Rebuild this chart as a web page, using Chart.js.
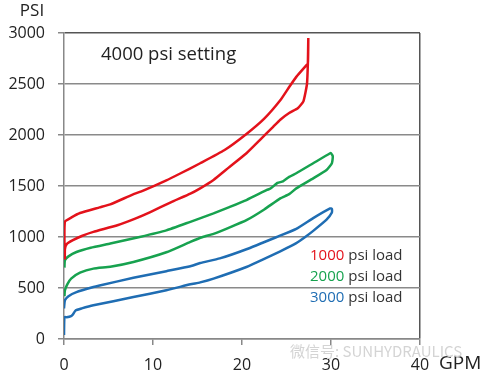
<!DOCTYPE html>
<html>
<head>
<meta charset="utf-8">
<script src="https://cdn.jsdelivr.net/npm/chart.js@4/dist/chart.umd.min.js"></script>
<style>
  html, body { margin: 0; padding: 0; background: #fff; }
  #wrap { width: 492px; height: 377px; }
</style>
</head>
<body>
<div id="wrap"><canvas id="psiChart"></canvas></div>
<script>
// flow (GPM) and pressure (PSI), each curve is one closed loop
var redX = [0.1, 0.1, 0.3, 1.0, 2.0, 3.3, 6, 8, 9.7, 12, 14.2, 15.3, 16.8, 18.5, 20.5, 22, 23.5, 24.3, 25.3, 26.3, 26.9, 27.3, 27.4, 27.45,
            27.4, 27.2, 26.1, 25.3, 24.3, 22.5, 20.5, 18, 15.3, 13, 11.5, 8.9, 7.7, 5.2, 4.0, 1.8, 0.8, 0.1, 0.05];
var redY = [780, 880, 930, 969, 1010, 1050, 1115, 1180, 1244, 1340, 1425, 1477, 1559, 1680, 1821, 1950, 2080, 2150, 2215, 2265, 2330, 2500, 2700, 2950,
            2700, 2680, 2570, 2470, 2340, 2160, 2010, 1850, 1723, 1620, 1555, 1455, 1415, 1320, 1290, 1235, 1190, 1150, 900];

var greenX = [0.05, 0.1, 0.4, 0.8, 1.8, 3.3, 5.2, 7.8, 11.5, 14.2, 15.6, 16.8, 18.5, 20.5, 22.5, 24.3, 25.3, 26.1, 28, 29.5, 30.1, 30.2, 30.0,
              29.9, 28, 26.1, 25.3, 24.6, 24.0, 23.2, 22.8, 20.5, 18.5, 16.8, 14.2, 11.5, 8.5, 5.2, 3.0, 1.4, 0.5, 0.1, 0.05];
var greenY = [420, 477, 540, 592, 650, 690, 708, 755, 850, 952, 1000, 1030, 1090, 1165, 1270, 1379, 1420, 1477, 1575, 1657, 1723, 1790, 1821,
              1821, 1723, 1625, 1590, 1545, 1530, 1475, 1461, 1362, 1290, 1231, 1149, 1065, 1000, 936, 895, 853, 810, 772, 700];

var blueX = [0.0, 0.05, 0.3, 0.8, 1.0, 1.3, 2.0, 3.3, 7.8, 11.5, 14.2, 15.3, 16.8, 20.5, 22.5, 24.3, 26.1, 27.1, 28, 29.5, 30.1, 30.1,
             29.9, 28, 26.1, 23.9, 20.5, 17.5, 15.3, 14.2, 11.5, 7.8, 4.0, 3.3, 1.4, 0.5, 0.1, 0.0];
var blueY = [40, 214, 214, 225, 241, 280, 300, 330, 411, 477, 536, 555, 592, 706, 785, 860, 940, 1000, 1060, 1170, 1240, 1275,
             1280, 1185, 1080, 1000, 880, 790, 745, 713, 665, 600, 525, 510, 460, 420, 379, 300];

var xTicks = [0, 10, 20, 30, 40];
var yTicks = [0, 500, 1000, 1500, 2000, 2500, 3000];
var loadNames = ['1000', '2000', '3000'];
var loadColors = ['#e3121b', '#17a24f', '#1f6db3'];

function toPoints(xs, ys) {
  var pts = [];
  for (var i = 0; i < xs.length; i++) pts.push({x: xs[i], y: ys[i]});
  return pts;
}

// captions and the coloured load legend drawn on top of the plot
var textPlugin = {
  id: 'captions',
  afterDraw: function(chart) {
    var c = chart.ctx;
    c.save();
    c.textBaseline = 'middle';
    c.fillStyle = '#222';
    c.font = '17px "Open Sans"';
    c.textAlign = 'center';
    c.fillText('PSI', 32, 11);
    c.textAlign = 'left';
    c.font = '19px "Open Sans"';
    c.fillText('GPM', 439, 364);
    c.font = '18.5px "Open Sans"';
    c.fillText('4000 psi setting', 101, 55);

    // watermark
    c.fillStyle = '#d4d4d4';
    c.font = '15px "Noto Sans CJK SC"';
    c.fillText('微信号: SUNHYDRAULICS', 290, 351);

    c.font = '15px "Open Sans"';
    var rows = [256, 277, 298];
    for (var i = 0; i < loadNames.length; i++) {
      c.fillStyle = loadColors[i];
      c.fillText(loadNames[i], 310, rows[i]);
      var w = c.measureText(loadNames[i]).width;
      c.fillStyle = '#333';
      c.fillText(' psi load', 310 + w, rows[i]);
    }
    c.restore();
  }
};

document.addEventListener("DOMContentLoaded", function() {
  var ctx = document.getElementById('psiChart').getContext('2d');
  var psiChart = new Chart(ctx, {
    type: 'scatter',
    data: {
      datasets: [
        { data: toPoints(redX, redY), borderColor: loadColors[0] },
        { data: toPoints(greenX, greenY), borderColor: loadColors[1] },
        { data: toPoints(blueX, blueY), borderColor: loadColors[2] }
      ]
    },
    options: {
      responsive: true,
      maintainAspectRatio: false,
      animation: false,
      layout: { padding: { top: 33, right: 72, left: 0, bottom: 0 } },
      datasets: {
        scatter: { showLine: true, pointRadius: 0, borderWidth: 2.5, tension: 0.15, fill: false }
      },
      plugins: {
        legend: { display: false },
        tooltip: { enabled: false }
      },
      scales: {
        x: {
          type: 'linear',
          min: 0,
          max: 40,
          afterBuildTicks: function(scale) { scale.ticks = xTicks.map(function(v) { return {value: v}; }); },
          afterFit: function(scale) { scale.height = 38; },
          ticks: { color: '#222', font: { family: 'Open Sans', size: 16 }, padding: 11, maxRotation: 0,
                   callback: function(v) { return String(v); } },
          grid: {
            color: function(c) { return c.tick && c.tick.value === 40 ? '#555' : 'rgba(0,0,0,0)'; },
            lineWidth: 1.5,
            tickColor: '#888',
            tickLength: 6
          },
          border: { color: '#888', width: 1.5 }
        },
        y: {
          min: 0,
          max: 3000,
          afterBuildTicks: function(scale) { scale.ticks = yTicks.map(function(v) { return {value: v}; }); },
          afterFit: function(scale) { scale.width = 64; },
          ticks: { color: '#222', font: { family: 'Open Sans', size: 16 }, padding: 13,
                   callback: function(v) { return String(v); } },
          grid: {
            color: function(c) { return c.tick && c.tick.value === 3000 ? '#555' : '#8a8a8a'; },
            lineWidth: 1.5,
            tickColor: '#888',
            tickLength: 6
          },
          border: { color: '#888', width: 1.5 }
        }
      }
    },
    plugins: [textPlugin]
  });
});
</script>
</body>
</html>
